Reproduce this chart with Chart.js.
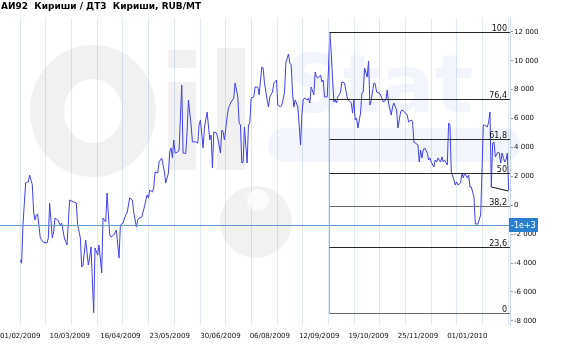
<!DOCTYPE html>
<html><head><meta charset="utf-8">
<script src="https://cdn.jsdelivr.net/npm/chart.js@4.4.1/dist/chart.umd.min.js"></script>
<style>html,body{margin:0;padding:0;background:#fff;overflow:hidden}#wrap{width:565px;height:345px;position:relative}</style>
</head><body><div id="wrap"><canvas id="c" width="565" height="345"></canvas></div>
<script>
const titleText = 'АИ92  Кириши / ДТ3  Кириши, RUB/MT';
// x = days since 01/02/2009
const tickDays = [0, 37, 75, 112, 150, 187, 224, 261, 298, 335];
const tickLabels = ['01/02/2009','10/03/2009','16/04/2009','23/05/2009','30/06/2009','06/08/2009','12/09/2009','19/10/2009','25/11/2009','01/01/2010'];
const yTickValues = [-8000, -6000, -4000, -2000, 0, 2000, 4000, 6000, 8000, 10000, 12000];
const days = [
  0,1,2,4,6,7,9,10,11,12,13,15,17,20,21,22,24,25,26,28,
  30,31,33,35,37,40,42,43,45,46,47,49,51,52,53,55,56,58,59,61,
  62,64,65,67,68,70,72,74,75,77,79,80,82,84,85,87,88,89,91,93,
  95,96,97,99,100,101,103,104,106,108,109,111,112,113,114,115,116,118,119,121,
  122,124,125,126,128,129,131,133,134,135,137,138,140,142,143,144,145,147,148,150,
  151,152,153,155,156,158,160,161,163,164,165,166,167,168,170,171,172,173,175,176,
  178,179,181,182,183,185,186,187,189,190,192,193,195,196,198,199,201,202,203,204,
  205,206,208,209,210,211,212,213,215,216,217,218,220,221,222,223,225,226,227,228,
  230,231,232,233,235,236,237,238,240,241,243,245,246,248,249,250,251,252,253,255,
  256,257,258,260,261,262,263,265,266,267,269,270,272,274,275,276,278,279,280,281,
  282,283,285,286,288,290,291,293,294,295,296,298,299,300,301,302,303,305,306,307,
  308,310,311,312,313,315,316,317,318,320,321,322,323,325,326,327,328,330,331,332,
  333,335,336,337,338,340,341,343,345,346,347,348,350,351,352,353,354,355,356,358,
  359,360,361,363,364,365,366
];
const values = [
  -3790,-4020,-1370,1540,1610,2090,1400,-470,-1020,-680,-610,-2270,-2550,-2620,-2270,150,-2270,-1850,-890,-1020,
  -1370,-1230,-2270,-2750,360,220,150,-1370,-2270,-4280,-4140,-2410,-4140,-3650,-2890,-7440,-2960,-3450,-2750,-4690,
  -890,-1160,840,-2060,-2200,-2060,-1720,-3650,-1370,-1230,-680,-540,500,360,-470,-1510,-1020,-890,-820,-120,
  710,500,1050,910,1190,2300,2230,2990,3270,2300,1540,2230,3680,3960,3270,4510,3610,3680,3820,8320,
  3610,3580,5070,7280,5550,4370,4400,4300,5550,5900,3960,5340,6450,4510,4860,2570,5070,5000,4650,3610,
  5200,5070,4510,6100,6730,7140,7420,8460,7490,5690,5550,2920,2990,5410,2920,5550,5690,7420,7490,8180,
  8180,7630,9560,9490,8460,7280,6800,7490,7830,8460,8660,6930,6800,6930,7760,9840,10460,9840,9700,7830,
  6800,7280,6800,5550,4170,6240,7280,7420,7280,7420,7070,8180,7630,9220,8870,8800,9010,8530,8660,7490,
  7490,9490,11960,10530,7140,7280,7070,7490,7830,8530,8460,7420,7280,7070,6380,7280,5900,6030,5340,6380,
  7760,7830,9490,8870,9980,6930,7280,8460,8400,7830,7760,7630,7140,7280,7970,7070,6240,6800,7070,6800,
  6590,5340,6450,6590,6450,6240,5760,5900,5760,4370,4300,4170,2990,3820,3270,3820,3960,3610,3130,3270,
  2990,2640,3130,2990,3270,2990,3340,2990,3130,2780,5690,5550,2300,1740,1400,1610,1400,1540,2230,1880,
  2230,1880,2090,1260,1260,570,-1300,-1300,-680,2300,5550,5550,5410,5760,6450,1260,4300,4370,3340,3680,
  3610,2920,3610,2990,3130,3610,1050
];
const trendDays = [353, 366];
const trendValues = [1260, 980];
const markerLevel = -1370;
const fibPercents = [100, 76.4, 61.8, 50, 38.2, 23.6, 0];
const gridStepDays = 19.24;

const X_MIN = -15.21, X_MAX = 367.0, Y_MIN = -8290, Y_MAX = 12954;
const FONT = '"DejaVu Sans", sans-serif';
Chart.defaults.font.family = FONT;

function fmt(v){
  const s = Math.abs(v).toString().replace(/\B(?=(\d{3})+(?!\d))/g, ' ');
  return (v < 0 ? '-' : '') + s;
}

const overlay = {
  id: 'overlay',
  beforeDatasetsDraw(chart){
    const ctx = chart.ctx;
    ctx.save();
    // faint watermark
    ctx.strokeStyle = 'rgba(0,0,0,0.055)';
    ctx.lineWidth = 34;
    ctx.beginPath(); ctx.ellipse(93, 111, 46, 49, 0, 0, Math.PI*2); ctx.stroke();
    ctx.fillStyle = 'rgba(0,0,0,0.055)';
    ctx.fillRect(168, 50, 28, 18);
    ctx.fillRect(168, 82, 28, 88);
    ctx.fillRect(217, 48, 28, 122);
    ctx.beginPath(); ctx.arc(256, 222, 36, 0, Math.PI*2); ctx.fill();
    ctx.fillStyle = 'rgba(255,255,255,0.7)';
    ctx.beginPath(); ctx.arc(258, 200, 11, 0, Math.PI*2); ctx.fill();
    ctx.fillStyle = 'rgba(70,130,210,0.07)';
    ctx.font = 'bold 80px ' + FONT;
    ctx.textBaseline = 'alphabetic';
    ctx.fillText('Stat', 285, 112);
    ctx.beginPath(); ctx.roundRect(268, 128, 252, 34, 17); ctx.fill();
    ctx.restore();
  },
  afterDatasetsDraw(chart){
    const {ctx, chartArea, scales} = chart;
    const x = scales.x, y = scales.y;
    ctx.save();
    // marker level line
    const ly = Math.round(y.getPixelForValue(markerLevel)) + 0.5;
    ctx.strokeStyle = '#5b9bd5'; ctx.lineWidth = 1;
    ctx.beginPath(); ctx.moveTo(chartArea.left, ly); ctx.lineTo(chartArea.right, ly); ctx.stroke();
    // fibonacci
    const hi = Math.max(...values), lo = Math.min(...values);
    const hiDay = days[values.indexOf(hi)];
    const x0 = Math.round(x.getPixelForValue(hiDay)) - 0.5;
    const yTop = Math.round(y.getPixelForValue(hi)) + 0.5;
    const yBot = Math.round(y.getPixelForValue(lo)) + 0.5;
    ctx.strokeStyle = '#b0b0b0';
    ctx.beginPath(); ctx.moveTo(x0, yTop); ctx.lineTo(x0, yBot); ctx.stroke();
    ctx.font = '8px ' + FONT;
    ctx.textAlign = 'right'; ctx.textBaseline = 'alphabetic';
    fibPercents.forEach(p => {
      const v = lo + (hi - lo) * p / 100;
      const py = Math.round(y.getPixelForValue(v)) + 0.5;
      ctx.strokeStyle = (p === 38.2 || p === 0) ? '#6a6a6a' : '#2a2a2a';
      ctx.beginPath(); ctx.moveTo(x0, py); ctx.lineTo(chartArea.right, py); ctx.stroke();
      ctx.fillStyle = '#111';
      ctx.fillText(String(p).replace('.', ','), chartArea.right - 3, py - 1.5);
    });
    ctx.restore();
  },
  afterDraw(chart){
    const {ctx, chartArea, scales} = chart;
    ctx.save();
    ctx.fillStyle = '#000';
    ctx.font = 'bold 9px ' + FONT;
    ctx.textAlign = 'left'; ctx.textBaseline = 'alphabetic';
    ctx.fillText(titleText, 1, 9);
    // marker label on the axis
    const ly = Math.round(scales.y.getPixelForValue(markerLevel));
    ctx.fillStyle = '#2a7fd0';
    ctx.fillRect(chartArea.right - 1, ly - 7, 29, 14);
    ctx.fillStyle = '#fff';
    ctx.font = '8px ' + FONT;
    ctx.textBaseline = 'middle';
    ctx.fillText(markerLevel.toExponential(0), chartArea.right + 1, ly + 0.5);
    ctx.restore();
  }
};

new Chart(document.getElementById('c'), {
  type: 'line',
  data: {
    datasets: [
      { data: days.map((d, i) => ({x: d, y: values[i]})), borderColor: '#4040ec', borderWidth: 1, pointRadius: 0, tension: 0, xAxisID: 'x', yAxisID: 'y' },
      { data: trendDays.map((d, i) => ({x: d, y: trendValues[i]})), borderColor: '#111', borderWidth: 1, pointRadius: 0, tension: 0, xAxisID: 'x', yAxisID: 'y' }
    ]
  },
  options: {
    responsive: false, animation: false, devicePixelRatio: 1,
    layout: { padding: { top: 18, left: 0, right: 0, bottom: 0 } },
    plugins: { legend: { display: false }, tooltip: { enabled: false }, title: { display: false } },
    scales: {
      g: {
        type: 'linear', position: 'top', min: X_MIN, max: X_MAX,
        ticks: { display: false },
        grid: { color: '#dfe8f5', drawTicks: false },
        border: { display: false },
        afterBuildTicks(s){ const t = []; for (let k = 0; k * gridStepDays <= X_MAX; k++) t.push({value: k * gridStepDays}); s.ticks = t; },
        afterFit(s){ s.height = 0; s.paddingLeft = 0; s.paddingRight = 0; }
      },
      x: {
        type: 'linear', position: 'bottom', min: X_MIN, max: X_MAX,
        grid: { display: false, drawTicks: false },
        border: { display: false },
        ticks: { font: { size: 7 }, color: '#111', maxRotation: 0, autoSkip: false, padding: 7,
                 callback: (v, i) => tickLabels[i] },
        afterBuildTicks(s){ s.ticks = tickDays.map(v => ({value: v})); },
        afterFit(s){ s.height = 20; s.paddingLeft = 0; s.paddingRight = 0; }
      },
      y: {
        type: 'linear', position: 'right', min: Y_MIN, max: Y_MAX,
        ticks: { font: { size: 7 }, color: '#111', padding: 1, autoSkip: false, callback: v => fmt(v) },
        grid: { drawOnChartArea: false, tickLength: 3, tickColor: '#999' },
        border: { color: '#c9d8ea' },
        afterBuildTicks(s){ s.ticks = yTickValues.map(v => ({value: v})); },
        afterFit(s){ s.width = 55; s.paddingTop = 0; s.paddingBottom = 0; }
      }
    }
  },
  plugins: [overlay]
});
</script></body></html>
